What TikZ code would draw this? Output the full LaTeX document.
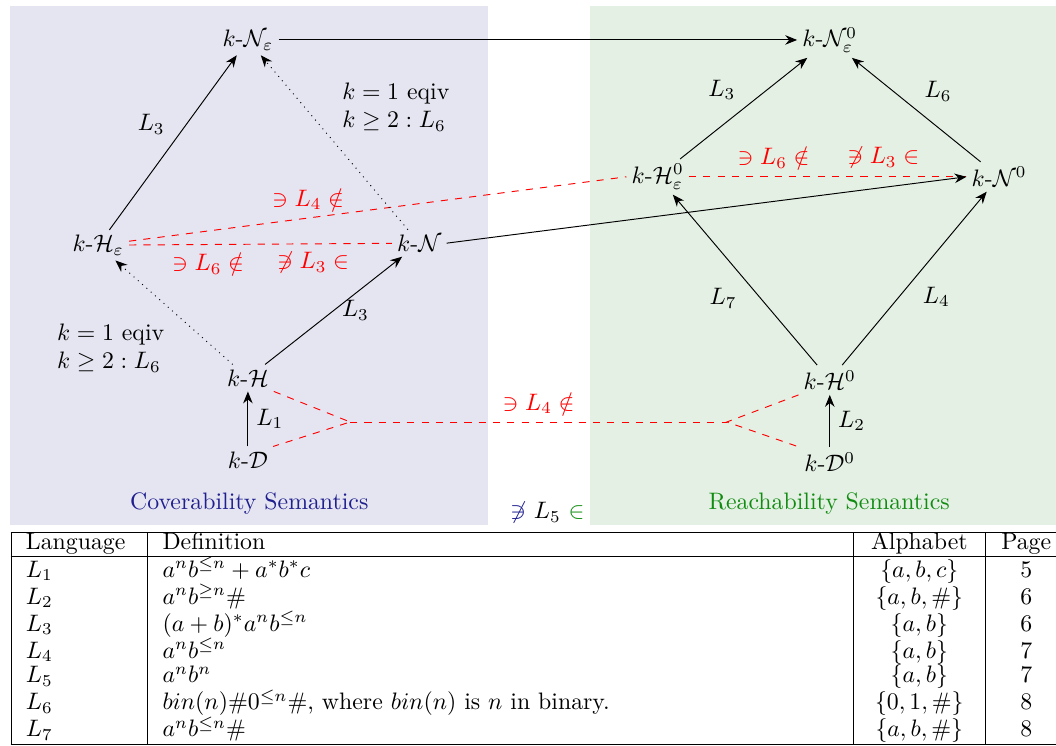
\documentclass[tikz,border=0pt]{standalone}
\usepackage{amssymb}
\usepackage{array}
\usetikzlibrary{arrows.meta,positioning}
\definecolor{covfill}{HTML}{E5E5F1}
\definecolor{reachfill}{HTML}{E4F0E4}
\definecolor{covblue}{HTML}{1F1F8F}
\definecolor{reachgreen}{HTML}{118C11}

\begin{document}
\begin{tikzpicture}[
  cls/.style={inner sep=2pt},
  arr/.style={-{Stealth[length=5pt,width=4pt]}},
  dotarr/.style={arr,dotted},
  sep/.style={red,dashed},
  lab/.style={text=red},
  note/.style={align=left,anchor=west}]
\useasboundingbox (0,0) rectangle (15.59,-11.00);
\fill[covfill] (0.15,-0.09) rectangle (7.20,-7.75);
\fill[reachfill] (8.71,-0.09) rectangle (15.59,-7.75);

\node[cls] (kNe) at (3.66,-0.59) {$k$-$\mathcal{N}_{\varepsilon}$};
\node[cls] (kHe) at (1.45,-3.62) {$k$-$\mathcal{H}_{\varepsilon}$};
\node[cls] (kN) at (6.19,-3.59) {$k$-$\mathcal{N}$};
\node[cls] (kH) at (3.66,-5.58) {$k$-$\mathcal{H}$};
\node[cls] (kD) at (3.66,-6.79) {$k$-$\mathcal{D}$};
\node[cls] (kNe0) at (12.25,-0.59) {$k$-$\mathcal{N}^0_{\varepsilon}$};
\node[cls] (kHe0) at (9.71,-2.61) {$k$-$\mathcal{H}^0_{\varepsilon}$};
\node[cls] (kN0) at (14.75,-2.61) {$k$-$\mathcal{N}^0$};
\node[cls] (kH0) at (12.25,-5.61) {$k$-$\mathcal{H}^0$};
\node[cls] (kD0) at (12.25,-6.82) {$k$-$\mathcal{D}^0$};
\coordinate (forkL) at (5.17,-6.23);
\coordinate (forkR) at (10.73,-6.23);

\node[note] (eqivN) at (4.93,-1.58) {$k=1$ eqiv\\$k\geq 2: L_6$};
\node[note] (eqivH) at (0.72,-5.14) {$k=1$ eqiv\\$k\geq 2: L_6$};

\draw[sep] (kHe) -- (kHe0.west) node[lab,pos=0.36,above] {$\ni L_4\notin$};
\draw[sep] (kHe) -- (kN) node[lab,pos=0.3,below] {$\ni L_6\notin$}
  node[lab,pos=0.7,below] {$\not\ni L_3\in$};
\draw[sep] (kHe0) -- (kN0.west) node[lab,pos=0.305,above] {$\ni L_6\notin$}
  node[lab,pos=0.7,above] {$\not\ni L_3\in$};
\draw[sep] (kH.south east) -- (forkL) -- (kD.north east);
\draw[sep] (forkL) -- (forkR) node[lab,midway,above] {$\ni L_4\notin$};
\draw[sep] (kH0.south west) -- (forkR) -- (kD0.north west);

\draw[arr] (kNe) -- (kNe0);
\draw[arr] (kHe) -- (kNe) node[midway,above left] {$L_3$};
\draw[dotarr] (kN) -- (kNe);
\draw[dotarr] (kH) -- (kHe);
\draw[arr] (kH) -- (kN) node[midway,right] {$L_3$};
\draw[arr] (kD) -- (kH) node[midway,right] {$L_1$};
\draw[arr] (kN.east) -- (kN0.west);
\draw[arr] (kHe0) -- (kNe0) node[midway,above left] {$L_3$};
\draw[arr] (kN0) -- (kNe0) node[midway,above right] {$L_6$};
\draw[arr] (kH0) -- (kHe0) node[midway,below left] {$L_7$};
\draw[arr] (kH0) -- (kN0) node[midway,below right] {$L_4$};
\draw[arr] (kD0) -- (kH0) node[midway,right] {$L_2$};

\node[text=covblue] (cov) at (3.68,-7.43) {Coverability Semantics};
\node[text=reachgreen] (reach) at (12.24,-7.43) {Reachability Semantics};
\node (both) at (8.08,-7.57) {$\color{covblue}\not\ni$ $L_5$ $\color{reachgreen}\in$};

\node[anchor=north west,inner sep=0pt] (langs) at (0.15,-7.84) {%
  \renewcommand{\arraystretch}{0.8}%
  \begin{tabular}{|p{45pt}|p{284pt}|>{\centering\arraybackslash}p{43pt}|>{\centering\arraybackslash}p{22pt}|}
  \hline
  Language & Definition & Alphabet & Page\\ \hline
  $L_1$ & $a^nb^{\leq n}+a^*b^*c$ & $\{a,b,c\}$ & 5\\
  $L_2$ & $a^nb^{\geq n}\#$ & $\{a,b,\#\}$ & 6\\
  $L_3$ & $(a+b)^*a^nb^{\leq n}$ & $\{a,b\}$ & 6\\
  $L_4$ & $a^nb^{\leq n}$ & $\{a,b\}$ & 7\\
  $L_5$ & $a^nb^n$ & $\{a,b\}$ & 7\\
  $L_6$ & $bin(n)\#0^{\leq n}\#$, where $bin(n)$ is $n$ in binary. & $\{0,1,\#\}$ & 8\\
  $L_7$ & $a^nb^{\leq n}\#$ & $\{a,b,\#\}$ & 8\\ \hline
  \end{tabular}};
\end{tikzpicture}
\end{document}
